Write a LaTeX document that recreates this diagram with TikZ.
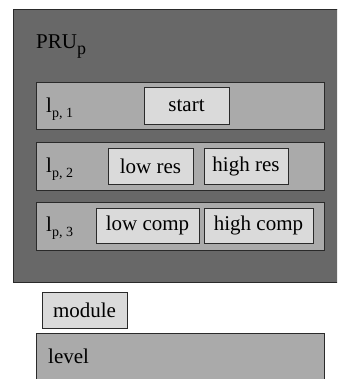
\documentclass[tikz,border=0pt]{standalone}
\usepackage{fontspec}
\setmainfont{Liberation Serif}
\definecolor{prugray}{HTML}{686868}
\definecolor{levgray}{HTML}{AAAAAA}
\definecolor{modgray}{HTML}{DADADA}
\definecolor{edgegray}{HTML}{2A2A2A}
\begin{document}
\begin{tikzpicture}[x=1pt,y=-1pt,
  txt/.style={font=\fontsize{21}{24}\selectfont, inner sep=0pt},
  prubox/.style={draw=edgegray, line width=0.8pt, fill=prugray, rectangle, inner sep=0pt},
  levbox/.style={draw=edgegray, line width=0.8pt, fill=levgray, rectangle, inner sep=0pt},
  modbox/.style={draw=edgegray, line width=0.8pt, fill=modgray, rectangle, inner sep=0pt, font=\fontsize{21}{24}\selectfont}]
\clip (0,0) rectangle (337,379);
\useasboundingbox (0,0) rectangle (337,379);
% outer PRU
\node[prubox, minimum width=332pt, minimum height=273pt, anchor=north west] (pru) at (12.5,9) {};
\node[txt, anchor=base west] (prulabel) at (36,49) {PRU\raisebox{-6pt}{\fontsize{18}{20}\selectfont p}};
% levels
\node[levbox, minimum width=288pt, minimum height=47pt, anchor=north west] (l1) at (36,82) {};
\node[levbox, minimum width=288pt, minimum height=48pt, anchor=north west] (l2) at (36,142) {};
\node[levbox, minimum width=288pt, minimum height=48pt, anchor=north west] (l3) at (36,202) {};
\node[txt, anchor=base west] (l1label) at (46,113) {l\raisebox{-5pt}{\fontsize{14}{16}\selectfont p, 1}};
\node[txt, anchor=base west] (l2label) at (46,172) {l\raisebox{-5pt}{\fontsize{14}{16}\selectfont p, 2}};
\node[txt, anchor=base west] (l3label) at (46,231) {l\raisebox{-5pt}{\fontsize{14}{16}\selectfont p, 3}};
% modules
\node[modbox, minimum width=85pt, minimum height=37pt] (start) at (186.5,105.5) {start};
\node[modbox, minimum width=85pt, minimum height=36pt] (lowres) at (150.5,166) {low res};
\node[modbox, minimum width=84pt, minimum height=36pt] (highres) at (246,166) {high res};
\node[modbox, minimum width=103pt, minimum height=35pt] (lowcomp) at (147.5,225.5) {low comp};
\node[modbox, minimum width=109pt, minimum height=35pt] (highcomp) at (258.5,225.5) {high comp};
% legend
\node[modbox, minimum width=85pt, minimum height=36pt] (legmod) at (84.5,310) {module};
\node[levbox, minimum width=288pt, minimum height=57pt, anchor=north west] (leglev) at (36,333) {};
\node[txt, anchor=base west] (leglevlabel) at (48,363) {level};
\end{tikzpicture}
\end{document}
